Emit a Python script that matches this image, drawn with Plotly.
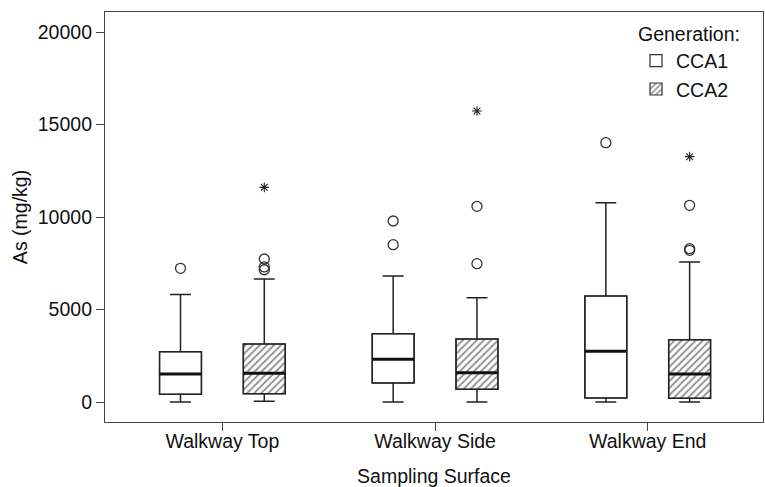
import plotly.graph_objects as go

categories = ["Walkway Top", "Walkway Side", "Walkway End"]
groups = ["CCA1", "CCA2"]

cca1_low = [0, 0, 0]
cca1_q1 = [414, 1027, 216]
cca1_med = [1514, 2306, 2739]
cca1_q3 = [2720, 3694, 5730]
cca1_high = [5810, 6811, 10775]
cca1_out = [[7227], [8504, 9784], [14018]]
cca1_ext = [[], [], []]

cca2_low = [40, 0, 0]
cca2_q1 = [450, 685, 198]
cca2_med = [1550, 1586, 1514]
cca2_q3 = [3135, 3405, 3369]
cca2_high = [6650, 5640, 7568]
cca2_out = [[7150, 7300, 7730], [7477, 10577], [8200, 8290, 10631]]
cca2_ext = [[11604], [15730], [13261]]

y_ticks = [0, 5000, 10000, 15000, 20000]

OFFSET = 0.197
WIDTH = 0.197
INK = "#222222"
FONT = "Liberation Sans, Arial, sans-serif"
FS = 19.5

fig = go.Figure()

series = [
    (groups[0], -OFFSET, cca1_low, cca1_q1, cca1_med, cca1_q3, cca1_high, cca1_out, cca1_ext, False),
    (groups[1], OFFSET, cca2_low, cca2_q1, cca2_med, cca2_q3, cca2_high, cca2_out, cca2_ext, True),
]

for name, off, low, q1, med, q3, high, out, ext, hatched in series:
    xs = [i + off for i in range(len(categories))]
    marker = dict(color="white", line=dict(color="#333333", width=1.2))
    if hatched:
        marker["pattern"] = dict(shape="/", fgcolor="#222222", bgcolor="white",
                                 size=5, solidity=0.38)
    fig.add_trace(go.Bar(
        x=xs, y=[b - a for a, b in zip(q1, q3)], base=q1, width=WIDTH,
        name=name, marker=marker, showlegend=True, hoverinfo="skip"))
    fig.add_trace(go.Box(
        x=xs, q1=q1, median=med, q3=q3, lowerfence=low, upperfence=high,
        width=WIDTH, whiskerwidth=0.5, fillcolor="rgba(0,0,0,0)",
        line=dict(color=INK, width=1.5), showlegend=False, hoverinfo="skip",
        boxpoints=False))
    # bold median lines
    mx, my = [], []
    for x, m in zip(xs, med):
        mx += [x - WIDTH / 2, x + WIDTH / 2, None]
        my += [m, m, None]
    fig.add_trace(go.Scatter(x=mx, y=my, mode="lines",
                             line=dict(color="#111111", width=3),
                             showlegend=False, hoverinfo="skip"))
    ox, oy = [], []
    for x, vals in zip(xs, out):
        for v in vals:
            ox.append(x)
            oy.append(v)
    fig.add_trace(go.Scatter(x=ox, y=oy, mode="markers",
                             marker=dict(symbol="circle-open", size=10,
                                         color="#333333", line=dict(width=1.3)),
                             showlegend=False, hoverinfo="skip"))
    ex, ey = [], []
    for x, vals in zip(xs, ext):
        for v in vals:
            ex.append(x)
            ey.append(v)
    fig.add_trace(go.Scatter(x=ex, y=ey, mode="markers",
                             marker=dict(symbol="asterisk-open", size=8,
                                         color="#222222", line=dict(width=1.1, color="#222222")),
                             showlegend=False, hoverinfo="skip"))

fig.update_layout(
    width=765, height=487,
    margin=dict(l=105, r=2, t=12, b=65),
    paper_bgcolor="white", plot_bgcolor="white",
    font=dict(family=FONT, size=FS, color="#111111"),
    barmode="overlay",
    hovermode=False,
    legend=dict(
        title=dict(text="Generation:", font=dict(size=FS), side="top"),
        x=0.807, y=0.99, xanchor="left", yanchor="top",
        bgcolor="rgba(0,0,0,0)", font=dict(size=FS),
        itemwidth=30, tracegroupgap=0,
    ),
    xaxis=dict(
        range=[-0.552, 2.542],
        tickmode="array", tickvals=list(range(len(categories))), ticktext=categories,
        showline=True, linecolor="#444444", linewidth=1.2, mirror=True,
        ticks="outside", ticklen=8, tickcolor="#444444", ticklabelstandoff=-7,
        showgrid=False, zeroline=False, automargin=False,
        title=dict(text="Sampling Surface", standoff=20, font=dict(size=FS)),
        tickfont=dict(size=FS),
    ),
    yaxis=dict(
        range=[-1081, 21081],
        tickmode="array", tickvals=y_ticks, ticktext=[str(t) for t in y_ticks],
        showline=True, linecolor="#444444", linewidth=1.2, mirror=True,
        ticks="outside", ticklen=8, tickcolor="#444444",
        showgrid=False, zeroline=False, automargin=False,
        title=dict(text="As (mg/kg)", standoff=4, font=dict(size=FS)),
        tickfont=dict(size=FS),
    ),
)

fig.write_html("out.html")
